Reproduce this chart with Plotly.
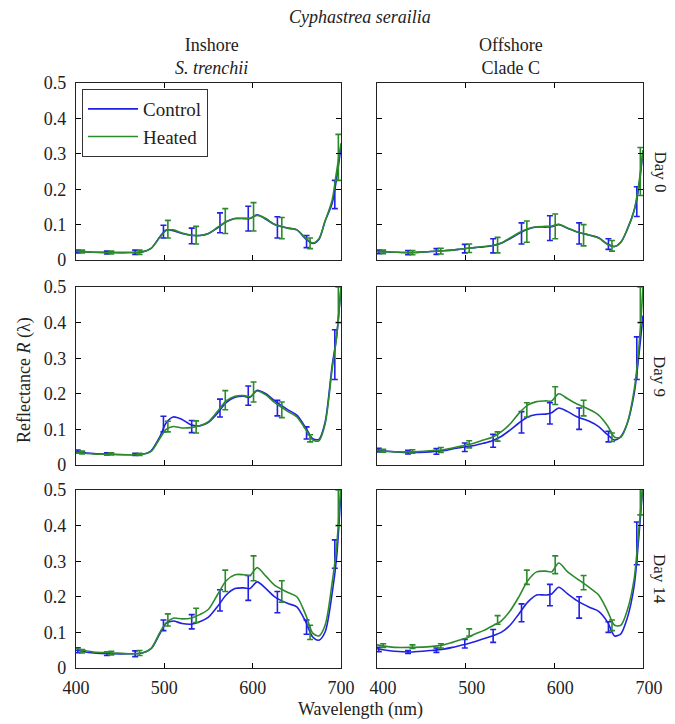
import plotly.graph_objects as go

# ---------------- data ----------------
WL = [400, 420, 440, 460, 475, 485, 495, 502, 510, 520, 530, 540, 550, 560, 570,
      580, 590, 597, 605, 615, 625, 640, 650, 660, 668, 675, 682, 690, 695, 700]

EB_WL_CONTROL = [402, 435, 467, 499, 531, 563, 595, 628, 661, 693]
EB_WL_HEATED = [407, 440, 472, 504, 536, 569, 601, 633, 665, 697]

# Day 0 inshore
D0_IN_C = [0.024, 0.022, 0.021, 0.021, 0.023, 0.033, 0.066, 0.085, 0.083, 0.075, 0.070, 0.069, 0.075, 0.090, 0.108,
           0.117, 0.117, 0.117, 0.128, 0.115, 0.100, 0.090, 0.085, 0.060, 0.047, 0.058, 0.110, 0.160, 0.230, 0.320]
D0_IN_H = [0.025, 0.022, 0.021, 0.021, 0.023, 0.033, 0.064, 0.083, 0.085, 0.076, 0.070, 0.069, 0.075, 0.092, 0.108,
           0.117, 0.118, 0.118, 0.126, 0.117, 0.100, 0.090, 0.085, 0.062, 0.048, 0.060, 0.110, 0.170, 0.250, 0.330]
D0_IN_C_EB = [0.024, 0.021, 0.022, 0.080, 0.068, 0.105, 0.117, 0.092, 0.052, 0.185]
D0_IN_C_ERR = [0.004, 0.004, 0.006, 0.018, 0.022, 0.028, 0.035, 0.030, 0.017, 0.040]
D0_IN_H_EB = [0.024, 0.021, 0.022, 0.087, 0.070, 0.110, 0.122, 0.090, 0.047, 0.290]
D0_IN_H_ERR = [0.004, 0.004, 0.006, 0.025, 0.025, 0.035, 0.040, 0.030, 0.015, 0.065]

# Day 0 offshore
D0_OFF_C = [0.024, 0.022, 0.021, 0.024, 0.026, 0.028, 0.031, 0.033, 0.035, 0.037, 0.040, 0.047, 0.060, 0.075, 0.087,
            0.093, 0.093, 0.094, 0.100, 0.090, 0.080, 0.070, 0.063, 0.045, 0.038, 0.050, 0.085, 0.140, 0.200, 0.310]
D0_OFF_H = [0.024, 0.022, 0.021, 0.024, 0.026, 0.028, 0.031, 0.033, 0.035, 0.038, 0.041, 0.048, 0.062, 0.077, 0.088,
            0.094, 0.095, 0.096, 0.101, 0.090, 0.080, 0.070, 0.062, 0.044, 0.038, 0.050, 0.085, 0.140, 0.210, 0.310]
D0_OFF_C_EB = [0.023, 0.021, 0.024, 0.032, 0.040, 0.075, 0.090, 0.075, 0.045, 0.165]
D0_OFF_C_ERR = [0.005, 0.006, 0.008, 0.012, 0.020, 0.030, 0.035, 0.030, 0.015, 0.042]
D0_OFF_H_EB = [0.023, 0.021, 0.025, 0.033, 0.042, 0.080, 0.095, 0.070, 0.040, 0.250]
D0_OFF_H_ERR = [0.005, 0.006, 0.008, 0.012, 0.022, 0.030, 0.035, 0.030, 0.015, 0.068]

# Day 9 inshore
D9_IN_C = [0.038, 0.032, 0.030, 0.029, 0.030, 0.040, 0.080, 0.118, 0.135, 0.128, 0.113, 0.110, 0.120, 0.145, 0.175,
           0.190, 0.193, 0.190, 0.210, 0.200, 0.180, 0.155, 0.140, 0.105, 0.074, 0.072, 0.120, 0.280, 0.360, 0.500]
D9_IN_H = [0.036, 0.031, 0.030, 0.029, 0.030, 0.038, 0.075, 0.100, 0.108, 0.104, 0.105, 0.110, 0.122, 0.150, 0.180,
           0.193, 0.195, 0.192, 0.208, 0.197, 0.175, 0.150, 0.135, 0.100, 0.070, 0.068, 0.115, 0.270, 0.360, 0.500]
D9_IN_C_EB = [0.038, 0.031, 0.030, 0.115, 0.108, 0.160, 0.195, 0.160, 0.090, 0.310]
D9_IN_C_ERR = [0.004, 0.003, 0.003, 0.022, 0.017, 0.025, 0.027, 0.022, 0.017, 0.070]
D9_IN_H_EB = [0.035, 0.031, 0.030, 0.108, 0.107, 0.182, 0.205, 0.155, 0.075, 0.450]
D9_IN_H_ERR = [0.004, 0.003, 0.003, 0.015, 0.017, 0.027, 0.028, 0.022, 0.010, 0.050]

# Day 9 offshore
D9_OFF_C = [0.042, 0.037, 0.035, 0.037, 0.040, 0.045, 0.049, 0.052, 0.055, 0.061, 0.068, 0.080, 0.098, 0.118, 0.135,
            0.142, 0.143, 0.147, 0.160, 0.150, 0.136, 0.122, 0.108, 0.085, 0.070, 0.080, 0.115, 0.200, 0.300, 0.420]
D9_OFF_H = [0.040, 0.037, 0.037, 0.040, 0.043, 0.048, 0.053, 0.057, 0.062, 0.070, 0.078, 0.093, 0.115, 0.145, 0.168,
            0.178, 0.180, 0.180, 0.200, 0.186, 0.172, 0.155, 0.140, 0.110, 0.078, 0.078, 0.115, 0.210, 0.320, 0.500]
D9_OFF_C_EB = [0.042, 0.036, 0.038, 0.050, 0.068, 0.120, 0.145, 0.130, 0.080, 0.300]
D9_OFF_C_ERR = [0.005, 0.005, 0.008, 0.012, 0.018, 0.030, 0.030, 0.030, 0.015, 0.060]
D9_OFF_H_EB = [0.040, 0.038, 0.042, 0.058, 0.080, 0.155, 0.195, 0.160, 0.078, 0.450]
D9_OFF_H_ERR = [0.004, 0.005, 0.007, 0.010, 0.013, 0.020, 0.025, 0.022, 0.012, 0.050]

# Day 14 inshore
D14_IN_C = [0.050, 0.042, 0.040, 0.040, 0.042, 0.054, 0.097, 0.125, 0.132, 0.125, 0.123, 0.130, 0.143, 0.172, 0.205,
            0.223, 0.225, 0.223, 0.242, 0.223, 0.200, 0.181, 0.172, 0.130, 0.087, 0.078, 0.101, 0.210, 0.310, 0.500]
D14_IN_H = [0.055, 0.045, 0.043, 0.040, 0.042, 0.055, 0.100, 0.127, 0.140, 0.138, 0.140, 0.150, 0.165, 0.205, 0.245,
            0.262, 0.262, 0.260, 0.282, 0.258, 0.232, 0.212, 0.200, 0.150, 0.098, 0.090, 0.120, 0.240, 0.340, 0.520]
D14_IN_C_EB = [0.050, 0.040, 0.040, 0.120, 0.130, 0.190, 0.225, 0.185, 0.115, 0.320]
D14_IN_C_ERR = [0.007, 0.005, 0.008, 0.015, 0.020, 0.030, 0.035, 0.030, 0.020, 0.040]
D14_IN_H_EB = [0.047, 0.042, 0.042, 0.135, 0.148, 0.245, 0.280, 0.215, 0.100, 0.450]
D14_IN_H_ERR = [0.005, 0.005, 0.007, 0.017, 0.020, 0.030, 0.035, 0.030, 0.020, 0.050]

# Day 14 offshore
D14_OFF_C = [0.054, 0.047, 0.045, 0.049, 0.053, 0.058, 0.064, 0.068, 0.074, 0.082, 0.090, 0.100, 0.120, 0.152, 0.185,
             0.205, 0.205, 0.208, 0.227, 0.208, 0.190, 0.170, 0.159, 0.129, 0.090, 0.096, 0.138, 0.230, 0.360, 0.520]
D14_OFF_H = [0.065, 0.058, 0.058, 0.060, 0.065, 0.072, 0.080, 0.085, 0.095, 0.105, 0.118, 0.132, 0.160, 0.200, 0.245,
             0.270, 0.272, 0.270, 0.295, 0.270, 0.252, 0.225, 0.205, 0.160, 0.120, 0.120, 0.160, 0.250, 0.380, 0.520]
D14_OFF_C_EB = [0.052, 0.045, 0.050, 0.068, 0.090, 0.155, 0.205, 0.170, 0.115, 0.350]
D14_OFF_C_ERR = [0.006, 0.004, 0.006, 0.012, 0.018, 0.025, 0.030, 0.030, 0.015, 0.060]
D14_OFF_H_EB = [0.063, 0.060, 0.062, 0.100, 0.135, 0.255, 0.290, 0.240, 0.120, 0.480]
D14_OFF_H_ERR = [0.005, 0.005, 0.006, 0.010, 0.012, 0.020, 0.025, 0.020, 0.015, 0.050]

X_TICKS = [400, 500, 600, 700]
Y_TICKS = [0, 0.1, 0.2, 0.3, 0.4, 0.5]
Y_TICK_TEXT = ["0", "0.1", "0.2", "0.3", "0.4", "0.5"]
DAY_LABELS = ["Day 0", "Day 9", "Day 14"]

# ---------------- styling ----------------
OFF = 8                       # page body margin
W, H = 675 - OFF, 724 - OFF
BLUE = "#2121e3"
GREEN = "#2c8a2c"
FONT = "Liberation Serif"
TXT = "#222"


def px(x):
    return (x - OFF) / W


def py(y):
    return 1 - (y - OFF) / H


panels = [
    (D0_IN_C, D0_IN_H, D0_IN_C_EB, D0_IN_C_ERR, D0_IN_H_EB, D0_IN_H_ERR),
    (D0_OFF_C, D0_OFF_H, D0_OFF_C_EB, D0_OFF_C_ERR, D0_OFF_H_EB, D0_OFF_H_ERR),
    (D9_IN_C, D9_IN_H, D9_IN_C_EB, D9_IN_C_ERR, D9_IN_H_EB, D9_IN_H_ERR),
    (D9_OFF_C, D9_OFF_H, D9_OFF_C_EB, D9_OFF_C_ERR, D9_OFF_H_EB, D9_OFF_H_ERR),
    (D14_IN_C, D14_IN_H, D14_IN_C_EB, D14_IN_C_ERR, D14_IN_H_EB, D14_IN_H_ERR),
    (D14_OFF_C, D14_OFF_H, D14_OFF_C_EB, D14_OFF_C_ERR, D14_OFF_H_EB, D14_OFF_H_ERR),
]

# page-pixel boxes of the panels
col_px = [(76, 341), (377, 643)]
row_px = [(83, 260), (287, 465), (490, 668)]

fig = go.Figure()
layout = {}
for i, (c, h, ceb, cerr, heb, herr) in enumerate(panels):
    r, col = divmod(i, 2)
    n = i + 1
    xa = "x" if n == 1 else f"x{n}"
    ya = "y" if n == 1 else f"y{n}"
    first = (i == 0)
    fig.add_trace(go.Scatter(x=WL, y=c, mode="lines", line=dict(color=BLUE, width=1.6, shape="spline", smoothing=0.8),
                             name="Control", showlegend=first, xaxis=xa, yaxis=ya))
    fig.add_trace(go.Scatter(x=EB_WL_CONTROL, y=ceb, mode="markers", marker=dict(size=4, color=BLUE, opacity=0),
                             error_y=dict(type="data", array=cerr, color=BLUE, thickness=1.6, width=3),
                             showlegend=False, xaxis=xa, yaxis=ya, hoverinfo="skip"))
    fig.add_trace(go.Scatter(x=WL, y=h, mode="lines", line=dict(color=GREEN, width=1.6, shape="spline", smoothing=0.8),
                             name="Heated", showlegend=first, xaxis=xa, yaxis=ya))
    fig.add_trace(go.Scatter(x=EB_WL_HEATED, y=heb, mode="markers", marker=dict(size=4, color=GREEN, opacity=0),
                             error_y=dict(type="data", array=herr, color=GREEN, thickness=1.6, width=3),
                             showlegend=False, xaxis=xa, yaxis=ya, hoverinfo="skip"))

    x0, x1 = col_px[col]
    y0, y1 = row_px[r]
    xkey = "xaxis" if n == 1 else f"xaxis{n}"
    ykey = "yaxis" if n == 1 else f"yaxis{n}"
    layout[xkey] = dict(domain=[px(x0), px(x1)], range=[400, 700], anchor=ya, automargin=False,
                        tickvals=X_TICKS, showticklabels=(r == 2), ticks="inside", ticklen=5,
                        ticklabelshift=(6 if col == 1 else 0), ticklabelstandoff=3,
                        tickcolor="black", showline=True, linecolor=TXT, linewidth=1.2, mirror="ticks",
                        showgrid=False, zeroline=False, tickfont=dict(family=FONT, size=18, color=TXT))
    layout[ykey] = dict(domain=[py(y1), py(y0)], range=[0, 0.5], anchor=xa, automargin=False,
                        tickvals=Y_TICKS, ticktext=Y_TICK_TEXT, showticklabels=(col == 0), ticks="inside", ticklen=5,
                        ticklabelstandoff=5,
                        tickcolor="black", showline=True, linecolor=TXT, linewidth=1.2, mirror="ticks",
                        showgrid=False, zeroline=False, tickfont=dict(family=FONT, size=18, color=TXT))


def ann(text, x, y, angle=0, size=18):
    return dict(text=text, x=px(x), y=py(y), xref="paper", yref="paper", xanchor="center", yanchor="middle",
                showarrow=False, textangle=angle, font=dict(family=FONT, size=size, color=TXT))


annotations = [
    ann("<i>Cyphastrea serailia</i>", 360, 17),
    ann("Inshore<br><i>S. trenchii</i>", 211, 56),
    ann("Offshore<br>Clade C", 511, 56),
    ann("Wavelength (nm)", 360, 709),
    ann("Reflectance <i>R</i> (λ)", 25, 380, -90),
]
for k, lab in enumerate(DAY_LABELS):
    y0, y1 = row_px[k]
    annotations.append(ann(lab, 660, (y0 + y1) / 2, 90, 17))

fig.update_layout(
    template="none",
    width=W, height=H, margin=dict(l=0, r=0, t=0, b=0, autoexpand=False),
    plot_bgcolor="white", paper_bgcolor="white",
    font=dict(family=FONT, color=TXT),
    showlegend=True,
    legend=dict(x=px(82), y=py(89), xanchor="left", yanchor="top", bgcolor="white",
                bordercolor="#333", borderwidth=1, font=dict(family=FONT, size=19, color=TXT),
                itemwidth=50, tracegroupgap=0),
    annotations=annotations,
    **layout,
)

fig.write_html("out.html")
